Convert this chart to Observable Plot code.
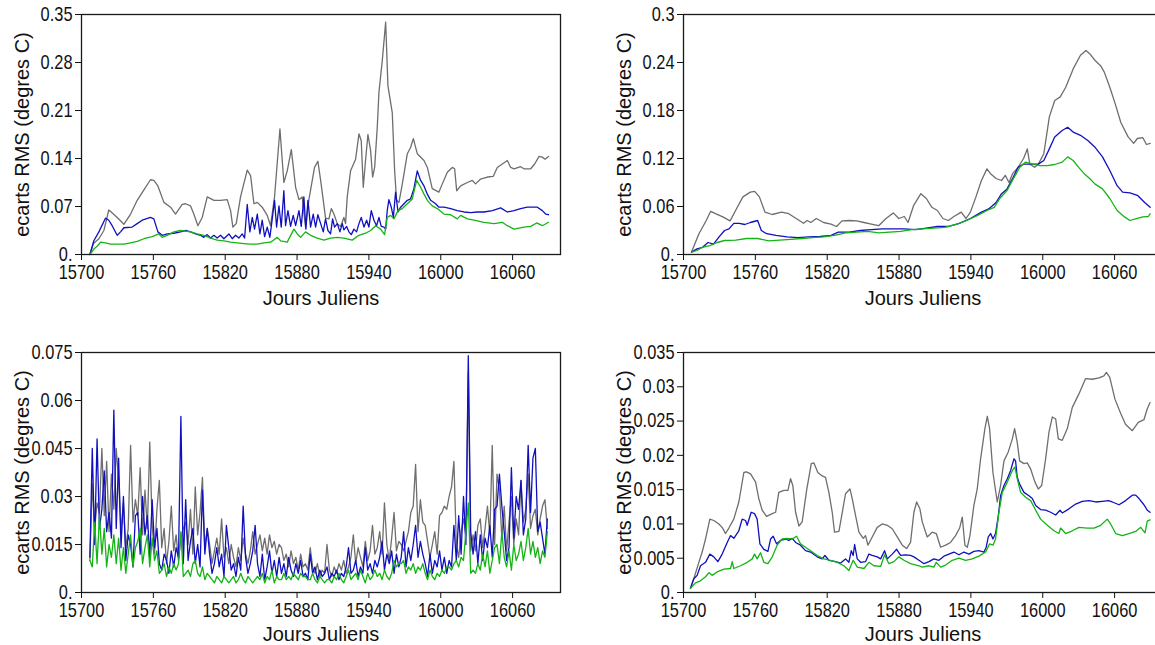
<!DOCTYPE html>
<html><head><meta charset="utf-8">
<script src="https://cdn.jsdelivr.net/npm/d3@7"></script>
<script src="https://cdn.jsdelivr.net/npm/@observablehq/plot@0.6"></script>
<style>
html,body{margin:0;padding:0;background:#fff;overflow:hidden;}
#chart{position:relative;width:1155px;height:645px;overflow:hidden;background:#fff;}
#chart svg{position:absolute;}
</style></head><body><div id="chart"></div>
<script>
// ---------- shared labels / ticks ----------
const xTitle = "Jours Juliens";
const yTitle = "ecarts RMS (degres C)";
const xTicks = [15700, 15760, 15820, 15880, 15940, 16000, 16060];
const xDomain = [15700, 16100];
const p1Ticks = [0, 0.07, 0.14, 0.21, 0.28, 0.35];
const p2Ticks = [0, 0.06, 0.12, 0.18, 0.24, 0.3];
const p3Ticks = [0, 0.015, 0.03, 0.045, 0.06, 0.075];
const p4Ticks = [0, 0.005, 0.01, 0.015, 0.02, 0.025, 0.03, 0.035];
const colors = {gray: "#6e6e6e", blue: "#1010c0", green: "#14b414"};

// ---------- panel 1 (top left): [jour, ecart] ----------
const p1Gray = [[15707,0],[15710,0.016],[15714.5,0.023],[15718.7,0.035],[15722.8,0.065],[15724.8,0.062],[15729.8,0.054],[15735.4,0.044],[15741,0.059],[15746.5,0.079],[15752,0.094],[15757.6,0.109],[15760.4,0.108],[15763.8,0.1],[15768.8,0.076],[15774.4,0.069],[15778.5,0.059],[15784.1,0.073],[15786.9,0.074],[15791,0.071],[15793.8,0.059],[15797.2,0.042],[15800.8,0.054],[15805,0.084],[15810.6,0.079],[15816.1,0.079],[15821.7,0.08],[15824.5,0.064],[15826.4,0.04],[15829.2,0.045],[15832.8,0.084],[15838.4,0.123],[15841.2,0.115],[15844,0.074],[15846.8,0.076],[15850.9,0.069],[15855.1,0.057],[15857.9,0.042],[15861.2,0.084],[15865.7,0.183],[15869,0.105],[15871.8,0.122],[15875.2,0.153],[15878.8,0.098],[15881.6,0.08],[15884.3,0.084],[15887.1,0.04],[15889.9,0.08],[15894.6,0.127],[15897.4,0.136],[15899.7,0.108],[15901.9,0.079],[15903.8,0.053],[15906.6,0.052],[15908.6,0.067],[15910.8,0.059],[15913.6,0.045],[15916.4,0.041],[15919.1,0.054],[15920.5,0.045],[15921.9,0.084],[15924.7,0.122],[15928.9,0.139],[15931.7,0.176],[15933.6,0.166],[15935.3,0.098],[15937.2,0.137],[15939.2,0.175],[15941.4,0.152],[15943.1,0.113],[15944.8,0.127],[15947,0.186],[15948.4,0.237],[15951.2,0.283],[15954,0.339],[15955.9,0.246],[15959.5,0.207],[15961.5,0.122],[15963.1,0.079],[15965.1,0.076],[15967.9,0.103],[15972.1,0.147],[15974.8,0.156],[15977.1,0.169],[15980.4,0.147],[15986,0.137],[15988.8,0.127],[15992.9,0.096],[15998.5,0.091],[16001.3,0.103],[16005.5,0.12],[16009.6,0.127],[16011.6,0.125],[16013.3,0.093],[16016.6,0.1],[16022.2,0.105],[16026.4,0.108],[16029.1,0.103],[16033.3,0.11],[16038.9,0.113],[16043.9,0.114],[16047.2,0.127],[16051.4,0.132],[16055.6,0.137],[16058.4,0.127],[16061.2,0.125],[16066.7,0.128],[16069.5,0.125],[16075.1,0.125],[16078.4,0.132],[16082.1,0.143],[16084.8,0.142],[16087.1,0.139],[16090,0.143]];
const p1Blue = [[15707,0],[15710.3,0.02],[15714.5,0.033],[15720,0.053],[15722.8,0.05],[15725.6,0.042],[15729.8,0.028],[15732.6,0.033],[15735.4,0.039],[15742.3,0.04],[15746.5,0.045],[15750.7,0.05],[15757.6,0.054],[15760.4,0.052],[15763.8,0.033],[15767.4,0.028],[15771.6,0.03],[15777.1,0.031],[15782.7,0.033],[15786.9,0.035],[15791.1,0.033],[15795.2,0.03],[15799.4,0.028],[15802.2,0.025],[15805,0.029],[15807.8,0.024],[15810.6,0.028],[15813.3,0.024],[15816.1,0.028],[15818.9,0.023],[15823.1,0.03],[15825.9,0.023],[15828.7,0.028],[15831.4,0.024],[15834.2,0.03],[15836.2,0.024],[15838.4,0.073],[15840.6,0.033],[15842.6,0.054],[15844.5,0.037],[15846.8,0.059],[15849,0.03],[15850.9,0.05],[15852.9,0.026],[15855.1,0.04],[15857.3,0.025],[15859.3,0.052],[15861.2,0.079],[15862.9,0.04],[15864.9,0.071],[15866.8,0.04],[15869,0.093],[15870.4,0.042],[15872.4,0.064],[15874.6,0.041],[15876.8,0.057],[15878.8,0.042],[15881.6,0.064],[15883.5,0.041],[15885.7,0.084],[15887.4,0.037],[15889.1,0.079],[15891.3,0.04],[15893.5,0.059],[15895.5,0.04],[15897.4,0.058],[15899.7,0.045],[15901.9,0.033],[15903.8,0.052],[15905.8,0.035],[15908,0.03],[15909.7,0.052],[15911.3,0.04],[15913.6,0.045],[15915.8,0.033],[15917.8,0.045],[15919.1,0.036],[15921.4,0.041],[15923.3,0.033],[15925.3,0.029],[15927.5,0.037],[15929.7,0.033],[15931.7,0.045],[15933.6,0.054],[15935.9,0.04],[15938.1,0.05],[15940,0.04],[15942,0.064],[15944.2,0.05],[15946.4,0.042],[15948.4,0.054],[15950.3,0.041],[15952.6,0.04],[15954,0.037],[15955.3,0.064],[15956.7,0.08],[15958.7,0.069],[15960.4,0.054],[15962.3,0.091],[15964.3,0.062],[15966.5,0.069],[15969.3,0.074],[15972.1,0.079],[15974.8,0.081],[15977.6,0.096],[15980.4,0.122],[15983.2,0.108],[15986,0.1],[15988.8,0.088],[15991.6,0.079],[15995.7,0.074],[15998.5,0.069],[16002.7,0.069],[16008.3,0.067],[16013.8,0.064],[16019.4,0.062],[16025,0.061],[16030.5,0.062],[16036.1,0.062],[16043.1,0.064],[16050,0.068],[16055.6,0.062],[16061.2,0.064],[16066.7,0.067],[16072.3,0.069],[16080.7,0.069],[16084.8,0.064],[16087.6,0.059],[16090,0.058]];
const p1Green = [[15707,0],[15710.3,0.008],[15713.1,0.012],[15715.9,0.018],[15720,0.017],[15724.2,0.015],[15729.8,0.015],[15735.4,0.015],[15740.9,0.017],[15746.5,0.019],[15752.1,0.023],[15759,0.026],[15764.6,0.03],[15767.4,0.025],[15771.6,0.028],[15777.1,0.033],[15782.7,0.035],[15786.9,0.034],[15791.1,0.033],[15796.6,0.03],[15802.2,0.028],[15807.8,0.024],[15813.3,0.021],[15818.9,0.02],[15824.5,0.018],[15830,0.017],[15835.6,0.016],[15841.2,0.015],[15846.8,0.015],[15852.3,0.017],[15857.9,0.018],[15863.5,0.025],[15866.3,0.02],[15871.8,0.018],[15877.4,0.037],[15880.2,0.03],[15883,0.025],[15887.1,0.033],[15891.3,0.028],[15896.9,0.024],[15902.4,0.021],[15908,0.024],[15913.6,0.025],[15919.1,0.024],[15926.1,0.021],[15931.7,0.028],[15937.2,0.031],[15941.4,0.035],[15945.6,0.042],[15949.8,0.037],[15953.1,0.029],[15955.3,0.054],[15958.1,0.057],[15960.9,0.052],[15964.3,0.064],[15967.9,0.067],[15972.1,0.074],[15976.2,0.081],[15979.9,0.108],[15983.2,0.098],[15986,0.088],[15988.8,0.079],[15992.9,0.071],[15997.1,0.067],[16002.7,0.059],[16008.3,0.058],[16013.8,0.052],[16016.6,0.057],[16022.2,0.052],[16027.8,0.05],[16036.1,0.047],[16044.5,0.045],[16051.4,0.047],[16055.6,0.042],[16061.2,0.037],[16069.5,0.04],[16075.1,0.041],[16080.1,0.046],[16084.8,0.042],[16090,0.047]];

// ---------- panel 2 (top right) ----------
const p2Gray = [[15706.7,0.003],[15712.9,0.026],[15719,0.0425],[15722.7,0.054],[15726.7,0.051],[15732.8,0.047],[15738.9,0.042],[15743.5,0.055],[15749.6,0.072],[15755.8,0.078],[15759.4,0.079],[15763.4,0.072],[15768,0.053],[15774.1,0.05],[15781.8,0.053],[15787.9,0.051],[15794.1,0.045],[15800.2,0.039],[15803.2,0.0425],[15806.3,0.04],[15810.9,0.045],[15817,0.04],[15823.2,0.038],[15827.8,0.035],[15832.4,0.042],[15838.5,0.0425],[15844.6,0.042],[15850.7,0.04],[15856.9,0.038],[15863,0.036],[15869.1,0.045],[15875.2,0.052],[15879.8,0.045],[15884.4,0.0475],[15887.5,0.04],[15892.1,0.061],[15898.2,0.076],[15902.8,0.07],[15907.4,0.059],[15912,0.055],[15916.6,0.045],[15921.2,0.0425],[15925.8,0.0475],[15931.9,0.053],[15935.9,0.045],[15939.6,0.053],[15944.2,0.072],[15948.8,0.0925],[15953.4,0.107],[15956.4,0.101],[15961,0.095],[15965.6,0.0925],[15968.7,0.099],[15971.8,0.09],[15974.8,0.101],[15979.4,0.109],[15984,0.12],[15987.1,0.132],[15989.2,0.113],[15993.2,0.109],[15996.3,0.113],[16000.9,0.126],[16005.5,0.172],[16010,0.1925],[16014.6,0.197],[16019.2,0.209],[16025.4,0.232],[16031.5,0.249],[16036.1,0.255],[16039.2,0.251],[16043.7,0.2425],[16048.3,0.236],[16051.4,0.228],[16056,0.209],[16060.6,0.188],[16065.2,0.165],[16071.3,0.147],[16075.9,0.139],[16079,0.145],[16083.6,0.146],[16086.6,0.1375],[16089.7,0.139]];
const p2Blue = [[15706.7,0.003],[15711.3,0.007],[15715.9,0.009],[15720.5,0.015],[15725.1,0.013],[15729.7,0.022],[15734.3,0.03],[15738,0.032],[15742,0.039],[15746.6,0.039],[15751.2,0.0375],[15755.8,0.04],[15761.9,0.0425],[15765,0.03],[15769.5,0.026],[15777.2,0.024],[15786.4,0.022],[15795.6,0.021],[15804.8,0.022],[15814,0.0225],[15823.2,0.024],[15829.3,0.028],[15838.5,0.028],[15847.7,0.03],[15856.9,0.031],[15866,0.032],[15875.2,0.032],[15884.4,0.032],[15893.6,0.031],[15902.8,0.033],[15912,0.035],[15921.2,0.035],[15930.4,0.039],[15939.6,0.045],[15948.8,0.053],[15954.9,0.057],[15961,0.065],[15965.6,0.076],[15970.2,0.082],[15974.8,0.095],[15979.4,0.109],[15984,0.113],[15990.1,0.113],[15996.3,0.113],[16000.9,0.1175],[16005.5,0.132],[16010,0.147],[16016.2,0.155],[16020.8,0.159],[16025.4,0.153],[16031.5,0.149],[16037.6,0.1425],[16043.7,0.134],[16049.9,0.122],[16056,0.105],[16062.1,0.086],[16066.7,0.078],[16072.8,0.077],[16079,0.074],[16085.1,0.065],[16089.7,0.059]];
const p2Green = [[15706.7,0.003],[15711.3,0.005],[15715.9,0.009],[15722,0.011],[15728.2,0.015],[15734.3,0.0175],[15743.5,0.018],[15752.7,0.02],[15761.9,0.02],[15771.1,0.017],[15780.3,0.018],[15789.5,0.019],[15798.7,0.02],[15807.8,0.021],[15817,0.022],[15826.2,0.024],[15835.4,0.027],[15844.6,0.028],[15853.8,0.029],[15863,0.027],[15872.2,0.028],[15881.4,0.029],[15890.6,0.031],[15899.8,0.032],[15908.9,0.033],[15918.1,0.034],[15927.3,0.0375],[15936.5,0.0425],[15945.7,0.049],[15953.4,0.055],[15959.5,0.059],[15964.1,0.07],[15970.2,0.08],[15976.3,0.097],[15980.9,0.109],[15985.5,0.1155],[15991.7,0.113],[15997.8,0.111],[16003.9,0.111],[16010,0.1125],[16016.2,0.1155],[16020.8,0.122],[16025.4,0.1175],[16030,0.109],[16034.6,0.101],[16039.2,0.095],[16043.7,0.088],[16049.9,0.082],[16056,0.07],[16062.1,0.055],[16068.3,0.047],[16072.8,0.0425],[16077.4,0.0445],[16083.6,0.047],[16088.2,0.0475],[16089.7,0.051]];

// ---------- panel 3 (bottom left): values every 2 days, in thousandths of a degree ----------
const p3Days = d3.range(15707, 16090, 2);
const p3GrayMilli = [10,34,20,28,25,45,24,41,19,37, 26,45,35,19,28,14,20,46,22,29, 24,39,18,32,20,47,21,12,26,35, 14,20,9,16,27,13,18,10,17,20, 22,15,26,12,33,18,25,36,14,20, 15,9,13,17,12,23,11,14,9,15, 11,8,14,10,17,12,9,13,19,12, 15,18,13,17,12,18,14,16,12,15, 14,10,12,8,13,9,11,7,12,8, 9,7,14,8,6,9,5,7,6,15, 7,5,8,6,9,7,10,6,8,11, 18,9,14,11,8,16,10,13,21,12, 14,19,12,28,15,10,17,25,13,16, 15,13,16,19,25,27,40,19,29,22, 21,16,11,15,19,12,24,25,27,26, 30,33,41,15,11,19,23,18,69,13, 18,13,21,23,14,20,27,18,46,15, 37,32,17,27,13,22,30,15,23,18, 35,22,26,37,20,24,26,18,23,27, 29,20];
const p3BlueMilli = [11,45,15,48,20,26,38,19,25,17, 57,20,42,14,30,10,18,15,8,24, 25,12,30,18,24,11,29,14,20,9, 7,12,10,6,13,8,14,11,55,9, 29,10,16,20,9,15,8,32,12,20, 12,6,9,14,8,12,5,21,14,7, 9,5,11,7,27,11,6,9,13,21, 9,5,12,4,8,13,6,10,5,11, 6,9,5,11,7,5,9,6,10,5, 6,4,12,6,8,4,7,5,6,8, 4,6,5,7,4,6,5,8,14,6, 7,10,5,8,6,14,7,9,6,10, 8,11,16,7,12,9,13,6,12,8, 11,19,8,14,10,15,21,11,16,12, 9,5,12,6,10,8,13,7,11,6, 10,8,21,10,24,12,30,15,74,19, 12,19,9,18,10,17,14,21,11,26, 27,37,27,19,10,14,39,17,30,26, 35,18,23,46,25,42,45,19,22,17, 12,23];
const p3GreenMilli = [10,8,22,9,24,12,20,8,15,11, 18,9,17,7,14,6,12,18,8,14, 16,20,9,14,18,8,17,10,13,6, 7,9,5,8,6,9,7,9,19,5, 6,7,5,9,10,6,5,8,4,6, 5,4,3,5,4,3,5,4,3,4, 5,3,4,6,4,3,5,4,3,4, 5,4,6,3,5,4,7,3,5,4, 4,6,4,5,4,6,5,4,6,5, 5,4,4,6,4,3,5,4,3,4, 4,3,5,4,6,4,3,5,7,4, 5,6,4,7,5,3,6,4,5,7, 5,6,4,7,5,4,6,10,8,9, 9,10,6,8,7,9,6,8,7,9, 6,4,7,5,4,6,5,7,6,8, 8,7,9,10,8,11,10,19,28,6, 7,6,9,7,12,8,13,6,10,14, 15,9,19,11,8,13,7,15,10,12, 16,10,14,20,12,16,11,14,9,13, 11,19];

// ---------- panel 4 (bottom right) ----------
const p4Gray = [[15705.8,0.0006],[15708.6,0.002],[15712.8,0.0044],[15715.6,0.0059],[15718.4,0.0078],[15722,0.0107],[15725.3,0.0105],[15729.5,0.01],[15732.3,0.0095],[15735.1,0.0086],[15737.9,0.0094],[15742,0.0107],[15746.2,0.0132],[15750.4,0.0175],[15752.6,0.0176],[15756,0.0173],[15760.2,0.0161],[15762.9,0.0137],[15765.7,0.012],[15769.3,0.0111],[15774.1,0.0115],[15776.9,0.0117],[15779.6,0.0146],[15783.8,0.0149],[15787.2,0.0149],[15789.4,0.0166],[15791.3,0.0156],[15793.6,0.0117],[15796.4,0.0097],[15799.1,0.0103],[15802.8,0.0149],[15806.7,0.0188],[15808.9,0.0189],[15812.2,0.0175],[15815.8,0.017],[15818.6,0.0168],[15821.4,0.0146],[15824.2,0.0117],[15826.1,0.0088],[15829.8,0.0089],[15832.6,0.0117],[15835.3,0.0144],[15839,0.0151],[15840.9,0.0137],[15843.7,0.0112],[15846.5,0.0088],[15850.1,0.0079],[15852,0.0083],[15854,0.0069],[15857.6,0.0081],[15861.8,0.0095],[15866,0.01],[15870.2,0.0098],[15874.3,0.0093],[15878.5,0.0081],[15882.7,0.0069],[15886.3,0.0064],[15889.6,0.0073],[15892.4,0.0117],[15894.7,0.0132],[15897.4,0.0122],[15899.4,0.0103],[15903.5,0.0081],[15907.7,0.0088],[15911.1,0.0086],[15914.7,0.0066],[15918.9,0.0069],[15923,0.0073],[15927.2,0.0083],[15930.6,0.0094],[15932.8,0.011],[15935,0.0069],[15937,0.0066],[15939.2,0.0083],[15942.5,0.0127],[15945.3,0.0151],[15948.1,0.0195],[15951.7,0.0239],[15953.7,0.0257],[15955.6,0.0239],[15958.4,0.0175],[15962,0.0132],[15964.8,0.0156],[15967.6,0.0192],[15971.2,0.0205],[15974.6,0.0224],[15976.5,0.0239],[15978.7,0.0219],[15980.7,0.0192],[15984.3,0.0188],[15987.1,0.0189],[15989.9,0.018],[15993.5,0.0161],[15996.3,0.0151],[15999.1,0.0156],[16002.4,0.0195],[16005.2,0.0234],[16008,0.0256],[16010.8,0.0253],[16013,0.0224],[16016.3,0.0222],[16020.5,0.0239],[16024.7,0.027],[16030.3,0.029],[16035.8,0.0312],[16041.4,0.0311],[16047,0.0313],[16051.1,0.0316],[16053.1,0.0321],[16055.9,0.0314],[16060.3,0.0282],[16065.1,0.0261],[16069.2,0.0245],[16074.8,0.0236],[16079.8,0.0248],[16084.5,0.0252],[16087.3,0.0268],[16089.6,0.0277]];
const p4Blue = [[15705.8,0.0006],[15708.6,0.002],[15711.4,0.0025],[15714.2,0.0039],[15718.4,0.0044],[15722,0.0056],[15725.3,0.0052],[15728.7,0.0045],[15732.3,0.0056],[15736.5,0.0073],[15739.3,0.0083],[15742,0.0079],[15746.2,0.009],[15749,0.0107],[15751.8,0.0105],[15753.2,0.0098],[15756.5,0.0117],[15759.3,0.0115],[15761.5,0.0107],[15763.8,0.0071],[15767.1,0.0063],[15770.5,0.006],[15772.7,0.0078],[15774.9,0.0082],[15777.7,0.0071],[15781,0.0076],[15785.2,0.0078],[15788,0.0076],[15790.8,0.0079],[15793.6,0.0073],[15797.7,0.0069],[15801.9,0.0061],[15806.1,0.0059],[15811.7,0.0052],[15815.8,0.0049],[15818.1,0.0054],[15821.4,0.0047],[15827,0.0045],[15831.2,0.0043],[15835.3,0.0049],[15838.1,0.0044],[15840.1,0.0061],[15841.7,0.0054],[15842.9,0.007],[15845.1,0.0049],[15847.9,0.0044],[15852,0.0045],[15854.8,0.0056],[15857.6,0.0054],[15861.8,0.0052],[15864.6,0.0049],[15867.9,0.0061],[15870.2,0.0049],[15874.3,0.0056],[15878,0.0063],[15881.3,0.0054],[15885.5,0.0055],[15889.6,0.0054],[15892.4,0.0052],[15896.6,0.0047],[15900.8,0.0042],[15905,0.0045],[15909.1,0.0049],[15913.3,0.0047],[15917.5,0.0053],[15921.6,0.0056],[15925.8,0.0059],[15930,0.0055],[15934.2,0.0059],[15938.4,0.0056],[15942.5,0.006],[15946.7,0.0061],[15950.9,0.0059],[15952.8,0.0066],[15954.5,0.0081],[15956.5,0.0086],[15958.4,0.0078],[15960.6,0.0086],[15962.9,0.0112],[15964.8,0.0141],[15967.6,0.0156],[15970.4,0.0166],[15973.2,0.0178],[15976,0.0195],[15977.3,0.0192],[15978.7,0.0168],[15980.7,0.0158],[15984.3,0.0146],[15988.5,0.0141],[15991.3,0.0137],[15994.1,0.0127],[15998.2,0.0121],[16002.4,0.012],[16006.6,0.0117],[16010.8,0.0113],[16014.4,0.012],[16016.3,0.0116],[16021.9,0.0122],[16027.5,0.0129],[16033,0.0133],[16038.6,0.0134],[16044.2,0.0132],[16049.7,0.0133],[16054.8,0.0134],[16058.1,0.0132],[16063.7,0.0128],[16069.2,0.0134],[16074.8,0.0142],[16077.6,0.0142],[16080.4,0.0137],[16084.5,0.0128],[16087.3,0.012],[16089.6,0.0117]];
const p4Green = [[15705.8,0.0006],[15710,0.0014],[15714.2,0.0017],[15718.4,0.0023],[15721.2,0.0029],[15723.9,0.0025],[15728.1,0.003],[15733.7,0.0034],[15739.3,0.0035],[15740.7,0.0045],[15742,0.0035],[15747.6,0.0039],[15753.2,0.0044],[15757.4,0.0049],[15759.3,0.0056],[15761.5,0.0049],[15764.3,0.0058],[15767.1,0.0044],[15770.5,0.0042],[15774.1,0.0052],[15778.2,0.0069],[15782.4,0.0078],[15786.6,0.0079],[15790.8,0.0078],[15794.4,0.0082],[15797.7,0.0071],[15801.9,0.0066],[15806.1,0.0061],[15811.7,0.0054],[15817.2,0.0049],[15822.8,0.0047],[15828.4,0.0044],[15834,0.0039],[15838.1,0.0032],[15841.7,0.0047],[15845.1,0.0037],[15850.7,0.0035],[15854.8,0.0044],[15859,0.0039],[15864.6,0.0038],[15867.9,0.0055],[15871.5,0.0042],[15875.7,0.0045],[15879.9,0.0052],[15884.1,0.0047],[15889.6,0.0042],[15896.6,0.0039],[15899.4,0.0037],[15905,0.0039],[15909.1,0.0037],[15911.1,0.0044],[15914.7,0.0037],[15918.9,0.004],[15924.4,0.0047],[15930,0.005],[15935.6,0.0047],[15941.1,0.0049],[15946.7,0.0053],[15952.3,0.0059],[15955.6,0.0071],[15958.4,0.0069],[15960.6,0.0078],[15963.4,0.0117],[15966.2,0.0146],[15970.4,0.0161],[15974.6,0.0178],[15976.8,0.0183],[15978.7,0.0166],[15981.5,0.0146],[15985.7,0.0139],[15989.9,0.0134],[15994.1,0.012],[15998.2,0.0107],[16003.8,0.0098],[16009.4,0.009],[16013.5,0.0086],[16014.9,0.0094],[16019.1,0.0086],[16024.7,0.009],[16030.3,0.0095],[16037.2,0.0094],[16042.8,0.0094],[16048.4,0.0098],[16053.9,0.0107],[16056.7,0.01],[16060.9,0.0086],[16066.5,0.0083],[16072,0.0086],[16077.6,0.0089],[16081.8,0.0095],[16085.4,0.0087],[16087.3,0.0104],[16089.6,0.0106]];

// ---------- build ----------
const toPairs = (days, milli) => days.map((d, i) => [d, milli[i] / 1000]);
const panels = [
  {left: 0,   top: 0,   height: 320, titleDy: 36, yMax: 0.35,  yTicks: p1Ticks, gray: p1Gray, blue: p1Blue, green: p1Green},
  {left: 602, top: 0,   height: 320, titleDy: 36, yMax: 0.3,   yTicks: p2Ticks, gray: p2Gray, blue: p2Blue, green: p2Green},
  {left: 0,   top: 338, height: 307, titleDy: 34, yMax: 0.075, yTicks: p3Ticks, gray: toPairs(p3Days, p3GrayMilli), blue: toPairs(p3Days, p3BlueMilli), green: toPairs(p3Days, p3GreenMilli)},
  {left: 602, top: 338, height: 307, titleDy: 34, yMax: 0.035, yTicks: p4Ticks, gray: p4Gray, blue: p4Blue, green: p4Green}
];
const fmtY = d => d === 0 ? "0." : String(d);
const chart = document.getElementById("chart");
const titleFont = "'Liberation Sans', Arial, sans-serif";

for (const p of panels) {
  const svg = Plot.plot({
    width: 600, height: p.height,
    marginLeft: 81, marginRight: 40, marginTop: 14, marginBottom: p.height - 254,
    style: {fontFamily: titleFont, fontSize: "20px", color: "#111", background: "transparent", overflow: "visible"},
    x: {domain: xDomain, ticks: xTicks, tickFormat: d => String(d), label: null, tickSize: 6, tickPadding: 4},
    y: {domain: [0, p.yMax], ticks: p.yTicks, tickFormat: fmtY, label: null, tickSize: 6, tickPadding: 3},
    marks: [
      Plot.line(p.gray, {x: d => d[0], y: d => d[1], stroke: colors.gray, strokeWidth: 1.3}),
      Plot.line(p.blue, {x: d => d[0], y: d => d[1], stroke: colors.blue, strokeWidth: 1.3}),
      Plot.line(p.green, {x: d => d[0], y: d => d[1], stroke: colors.green, strokeWidth: 1.3}),
      Plot.frame({stroke: "#1a1a1a", strokeWidth: 1.3}),
      Plot.text([xTitle], {text: d => d, frameAnchor: "bottom", textAnchor: "middle", lineAnchor: "top", dy: p.titleDy, fontFamily: titleFont, fontSize: 20, fill: "#111"}),
      Plot.text([yTitle], {text: d => d, frameAnchor: "left", textAnchor: "middle", rotate: -90, lineAnchor: "top", dx: -67, fontFamily: titleFont, fontSize: 20, fill: "#111"})
    ]
  });
  // condense the numeric tick labels (narrow digits, as in the reference)
  svg.querySelectorAll('g[aria-label$="tick label"] text').forEach(t => {
    const tr = t.getAttribute("transform") || "";
    t.setAttribute("transform", tr + " scale(0.82,1)");
  });
  svg.style.left = p.left + "px";
  svg.style.top = p.top + "px";
  chart.appendChild(svg);
}
</script></body></html>
